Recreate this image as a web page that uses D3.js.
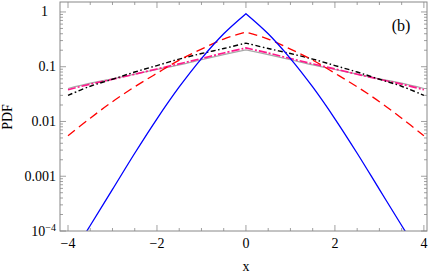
<!DOCTYPE html>
<html>
<head>
<meta charset="utf-8">
<script src="https://cdn.jsdelivr.net/npm/d3@7"></script>
<style>
  body { margin: 0; background: #fff; }
  text { font-family: "Liberation Serif", "Times New Roman", serif; fill: #000; }
</style>
</head>
<body>
<div id="chart"></div>
<script>
const xs = [-4, -3.5, -3, -2.5, -2, -1.5, -1, -0.5, 0, 0.5, 1, 1.5, 2, 2.5, 3, 3.5, 4];

const blueVals = [2.8e-5, 1.26e-4, 5.75e-4, 2.63e-3, 0.0112, 0.0427, 0.141, 0.40, 0.93,
                  0.40, 0.141, 0.0427, 0.0112, 2.63e-3, 5.75e-4, 1.26e-4, 2.8e-5];
const redVals = [0.0055, 0.0115, 0.023, 0.043, 0.076, 0.132, 0.21, 0.32, 0.43,
                 0.32, 0.21, 0.132, 0.076, 0.043, 0.023, 0.0115, 0.0055];
const blackVals = [0.030, 0.044, 0.059, 0.080, 0.105, 0.138, 0.174, 0.215, 0.27,
                   0.215, 0.174, 0.138, 0.105, 0.080, 0.059, 0.044, 0.030];
const grayVals = [0.040, 0.050, 0.060, 0.073, 0.089, 0.108, 0.134, 0.166, 0.203,
                  0.166, 0.134, 0.108, 0.089, 0.073, 0.060, 0.050, 0.040];
const pinkVals = [0.038, 0.048, 0.059, 0.073, 0.091, 0.113, 0.141, 0.178, 0.22,
                  0.178, 0.141, 0.113, 0.091, 0.073, 0.059, 0.048, 0.038];

const xTicks = [-4, -2, 0, 2, 4];
const yTicks = [1, 0.1, 0.01, 0.001, 1e-4];
const yTickLabels = ["1", "0.1", "0.01", "0.001", "10^-4"];

const width = 436;
const height = 276;
const mLeft = 60, mRight = 427, mTop = 2, mBottom = 231;

const svg = d3.select("#chart")
  .append("svg")
  .attr("width", width)
  .attr("height", height);

const x = d3.scaleLinear().domain([-4.18, 4.07]).range([mLeft, mRight]);
const y = d3.scaleLog().domain([1e-4, 1.52]).range([mBottom, mTop]);

svg.append("clipPath").attr("id", "clip")
  .append("rect")
  .attr("x", mLeft).attr("y", mTop)
  .attr("width", mRight - mLeft).attr("height", mBottom - mTop);

const series = [
  { vals: grayVals, color: "#a8a8a8", dash: null, w: 1.2 },
  { vals: pinkVals, color: "#ff1a8c", dash: "8,2,2,2", w: 1.7 },
  { vals: blackVals, color: "#000", dash: "5,2.5,1.5,2.5", w: 1.4 },
  { vals: redVals, color: "#ff0000", dash: "9,5", w: 1.3 },
  { vals: blueVals, color: "#0000ff", dash: null, w: 1.3 }
];

// smooth each side of the cusp at x = 0 separately
const line = d3.line()
  .x(d => x(d[0]))
  .y(d => y(d[1]))
  .curve(d3.curveCatmullRom);

function cuspPath(vals) {
  const pts = xs.map((v, i) => [v, vals[i]]);
  const lo = pts.filter(p => p[0] <= 0);
  const hi = pts.filter(p => p[0] >= 0);
  return line(lo) + line(hi).replace(/^M/, "L");
}

const plot = svg.append("g").attr("clip-path", "url(#clip)");

plot.selectAll(".curve")
  .data(series)
  .join("path")
  .attr("class", "curve")
  .attr("d", d => cuspPath(d.vals))
  .attr("fill", "none")
  .attr("stroke", d => d.color)
  .attr("stroke-width", d => d.w)
  .attr("stroke-dasharray", d => d.dash);

// frame
const frameColor = "#888";
svg.append("rect")
  .attr("x", mLeft).attr("y", mTop)
  .attr("width", mRight - mLeft).attr("height", mBottom - mTop)
  .attr("fill", "none")
  .attr("stroke", frameColor)
  .attr("stroke-width", 1);

// x ticks (major every 2, minor every 0.5)
const xMinor = d3.range(-4, 4.01, 0.5).filter(v => !xTicks.includes(v));
const tickG = svg.append("g").attr("stroke", frameColor).attr("stroke-width", 0.8);

xTicks.forEach(v => {
  tickG.append("line").attr("x1", x(v)).attr("x2", x(v)).attr("y1", mBottom).attr("y2", mBottom - 6);
  tickG.append("line").attr("x1", x(v)).attr("x2", x(v)).attr("y1", mTop).attr("y2", mTop + 6);
});
xMinor.forEach(v => {
  tickG.append("line").attr("x1", x(v)).attr("x2", x(v)).attr("y1", mBottom).attr("y2", mBottom - 3);
  tickG.append("line").attr("x1", x(v)).attr("x2", x(v)).attr("y1", mTop).attr("y2", mTop + 3);
});

// y ticks (major each decade, minor 2..9)
const yMinor = [];
[1e-4, 1e-3, 1e-2, 1e-1].forEach(d => {
  for (let k = 2; k <= 9; k++) yMinor.push(d * k);
});
yTicks.forEach(v => {
  tickG.append("line").attr("x1", mLeft).attr("x2", mLeft + 6).attr("y1", y(v)).attr("y2", y(v));
  tickG.append("line").attr("x1", mRight).attr("x2", mRight - 6).attr("y1", y(v)).attr("y2", y(v));
});
yMinor.forEach(v => {
  tickG.append("line").attr("x1", mLeft).attr("x2", mLeft + 3).attr("y1", y(v)).attr("y2", y(v));
  tickG.append("line").attr("x1", mRight).attr("x2", mRight - 3).attr("y1", y(v)).attr("y2", y(v));
});

// x tick labels
svg.selectAll(".xlab")
  .data(xTicks)
  .join("text")
  .attr("class", "xlab")
  .attr("x", d => x(d))
  .attr("y", 248)
  .attr("text-anchor", "middle")
  .attr("font-size", 14)
  .text(d => d < 0 ? "\u2212" + Math.abs(d) : d);

// y tick labels
yTicks.forEach((v, i) => {
  const lab = yTickLabels[i];
  const t = svg.append("text")
    .attr("x", lab === "1" ? 48 : 56)
    .attr("y", y(v) + 4.5)
    .attr("text-anchor", "end")
    .attr("font-size", 14);
  if (lab.includes("^")) {
    const [b, e] = lab.split("^");
    t.append("tspan").text(b);
    t.append("tspan").attr("dy", -5).attr("font-size", 10).text(e.replace("-", "\u2212"));
  } else {
    t.text(lab);
  }
});

// axis labels
svg.append("text")
  .attr("x", x(0))
  .attr("y", 271)
  .attr("text-anchor", "middle")
  .attr("font-size", 14)
  .text("x");

svg.append("text")
  .attr("transform", "translate(12,117) rotate(-90)")
  .attr("text-anchor", "middle")
  .attr("font-size", 14)
  .text("PDF");

svg.append("text")
  .attr("x", 401)
  .attr("y", 31)
  .attr("text-anchor", "middle")
  .attr("font-size", 16)
  .text("(b)");
</script>
</body>
</html>
